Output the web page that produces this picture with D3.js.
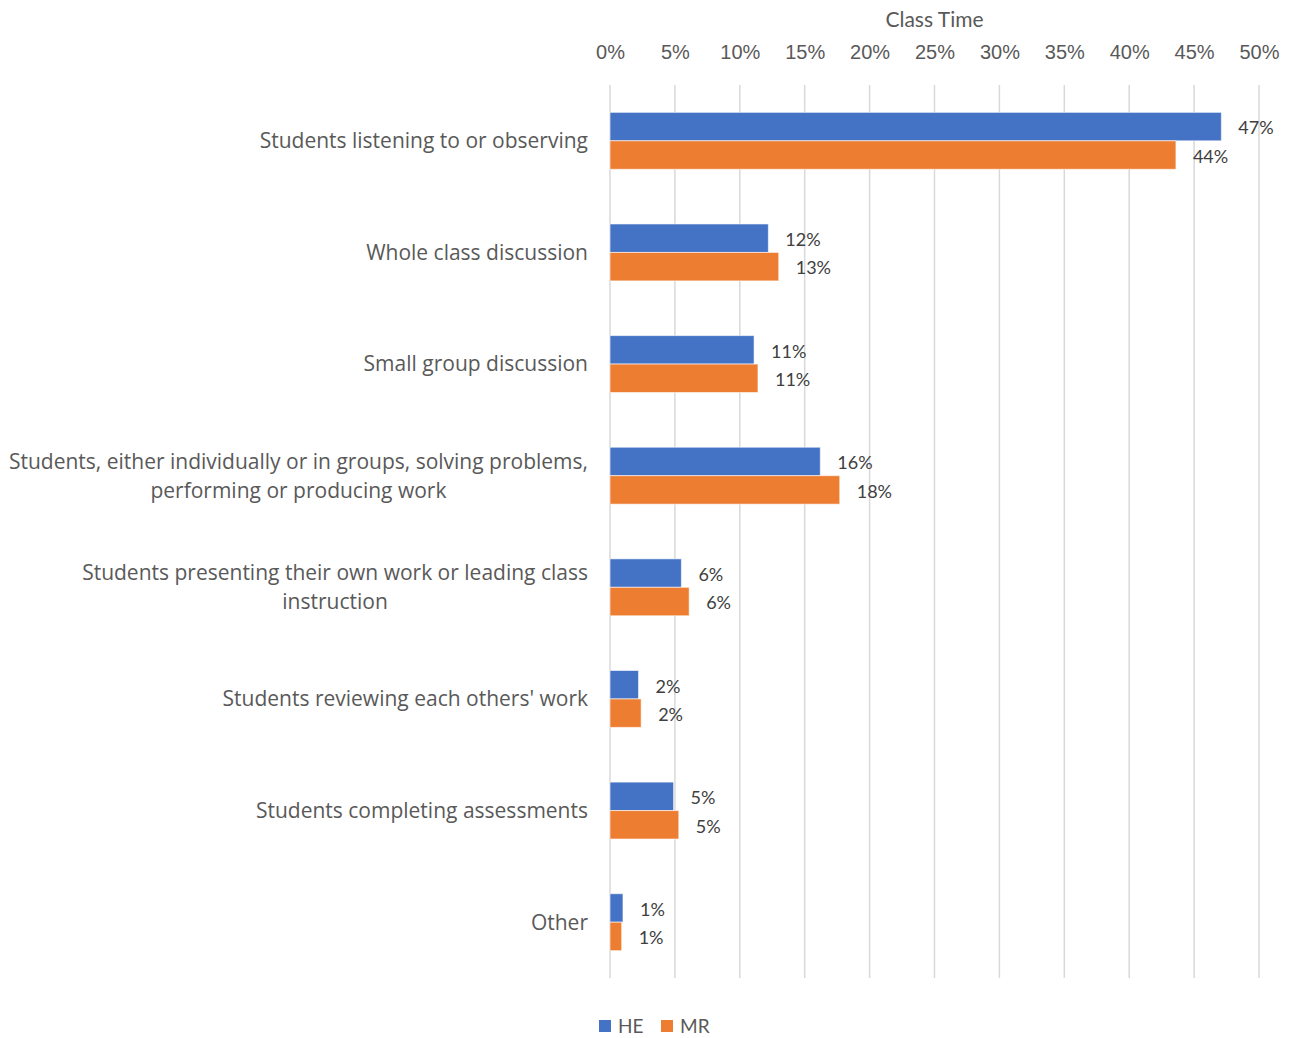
<!DOCTYPE html>
<html>
<head>
<meta charset="utf-8">
<script src="https://cdn.jsdelivr.net/npm/d3@7"></script>
<style>
  body { margin: 0; background: #fff; }
  svg { font-family: Lato, "Open Sans", sans-serif; }
</style>
</head>
<body>
<div id="chart"></div>
<script>
// categories (each entry is the lines of the wrapped label)
var categories = [
    ["Students listening to or observing"],
    ["Whole class discussion"],
    ["Small group discussion"],
    ["Students, either individually or in groups, solving problems,", "performing or producing work"],
    ["Students presenting their own work or leading class", "instruction"],
    ["Students reviewing each others' work"],
    ["Students completing assessments"],
    ["Other"]
];
var heValues = [0.471, 0.122, 0.111, 0.162, 0.055, 0.022, 0.049, 0.010];
var mrValues = [0.436, 0.130, 0.114, 0.177, 0.061, 0.024, 0.053, 0.009];
var seriesNames = ["HE", "MR"];
var seriesColors = ["#4472c4", "#ed7d31"];
var xTicks = [0, 0.05, 0.10, 0.15, 0.20, 0.25, 0.30, 0.35, 0.40, 0.45, 0.50];

var width = 1290, height = 1038;
var margin = {top: 85, right: 31, bottom: 60, left: 610};

var svg = d3.select("#chart").append("svg")
    .attr("width", width)
    .attr("height", height);

var x = d3.scaleLinear()
    .domain([0, 0.5])
    .range([margin.left, width - margin.right]);

var y = d3.scaleBand()
    .domain(d3.range(categories.length))
    .range([margin.top, height - margin.bottom])
    .paddingInner(0.49)
    .paddingOuter(0.245);

var ySub = d3.scaleBand()
    .domain(seriesNames)
    .range([0, y.bandwidth()]);

//gridlines
svg.append("g")
    .selectAll("line")
    .data(xTicks)
    .enter().append("line")
    .attr("x1", function(d) { return x(d); })
    .attr("x2", function(d) { return x(d); })
    .attr("y1", margin.top)
    .attr("y2", height - margin.bottom)
    .attr("stroke", "#d9d9d9")
    .attr("stroke-width", 1.5);

//top axis labels
var xAxis = d3.axisTop(x)
    .tickValues(xTicks)
    .tickFormat(d3.format(".0%"))
    .tickSize(0);

var axisG = svg.append("g")
    .attr("transform", "translate(0,62)")
    .call(xAxis);
axisG.select(".domain").remove();
axisG.selectAll("text")
    .attr("fill", "#595959")
    .style("font-size", "20px");

svg.append("text")
    .attr("x", (x(0) + x(0.5)) / 2)
    .attr("y", 27)
    .attr("text-anchor", "middle")
    .attr("fill", "#595959")
    .style("font-size", "21px")
    .text("Class Time");

// bars
var series = [heValues, mrValues];
series.forEach(function(vals, si) {
    var g = svg.append("g");
    g.selectAll("rect")
        .data(vals)
        .enter().append("rect")
        .attr("x", x(0))
        .attr("y", function(d, i) { return y(i) + ySub(seriesNames[si]); })
        .attr("width", function(d) { return x(d) - x(0); })
        .attr("height", ySub.bandwidth())
        .attr("fill", seriesColors[si])
        .attr("stroke", "#ffffff")
        .attr("stroke-opacity", 0.6)
        .attr("stroke-width", 1);

    g.selectAll("text")
        .data(vals)
        .enter().append("text")
        .attr("x", function(d) { return x(d) + 17; })
        .attr("y", function(d, i) { return y(i) + ySub(seriesNames[si]) + ySub.bandwidth() / 2 + 1.5; })
        .attr("dy", "0.35em")
        .attr("fill", "#404040")
        .style("font-size", "18px")
        .text(function(d) { return d3.format(".0%")(d); });
});

// category labels, centered block with right edge at axis
var labelRight = x(0) - 22;
var lineH = 29;
categories.forEach(function(lines, i) {
    var t = svg.append("text")
        .attr("fill", "#595959")
        .style("font-family", "'Open Sans', sans-serif")
        .style("font-size", "21px")
        .attr("text-anchor", "middle");
    var cy = y(i) + y.bandwidth() / 2;
    var y0 = cy - (lines.length - 1) * lineH / 2;
    lines.forEach(function(l, j) {
        t.append("tspan")
            .attr("y", y0 + j * lineH)
            .attr("dy", "0.35em")
            .text(l);
    });
    var maxW = 0;
    t.selectAll("tspan").each(function() {
        maxW = Math.max(maxW, this.getComputedTextLength());
    });
    t.selectAll("tspan").attr("x", labelRight - maxW / 2);
});

// legend
var legend = svg.append("g")
    .attr("transform", "translate(599,1020)");
var legendX = [0, 62];
seriesNames.forEach(function(name, i) {
    legend.append("rect")
        .attr("x", legendX[i])
        .attr("y", 0)
        .attr("width", 12)
        .attr("height", 12)
        .attr("fill", seriesColors[i]);
    legend.append("text")
        .attr("x", legendX[i] + 19)
        .attr("y", 6)
        .attr("dy", "0.35em")
        .attr("fill", "#595959")
        .style("font-size", "19px")
        .text(name);
});
</script>
</body>
</html>
